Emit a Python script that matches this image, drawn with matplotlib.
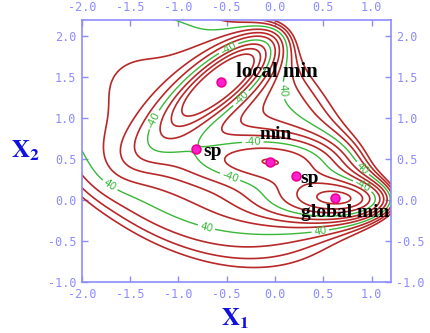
import numpy as np
import matplotlib
matplotlib.use('Agg')
import matplotlib.pyplot as plt

# Mueller-Brown surface parameters
A = [-200, -100, -170, 15]
a = [-1, -1, -6.5, 0.7]
b = [0, 0, 11, 0.6]
c = [-10, -10, -6.5, 0.7]
x0 = [1, 0, -0.5, -1]
y0 = [0, 0.5, 1.5, 1]

levels = [-100, -80, -60, -40, -20, 0, 20, 40, 60, 80, 100]
green_levels = [-40, 40]

# stationary points and their labels
pt_x = [-0.558, -0.822, -0.050, 0.212, 0.623]
pt_y = [1.442, 0.624, 0.467, 0.293, 0.028]
pt_names = ['local min', 'sp', 'min', 'sp', 'global min']
name_x = [-0.40, -0.74, -0.16, 0.26, 0.27]
name_y = [1.56, 0.60, 0.80, 0.27, -0.15]

xticks = [-2.0, -1.5, -1.0, -0.5, 0.0, 0.5, 1.0]
yticks = [-1.0, -0.5, 0.0, 0.5, 1.0, 1.5, 2.0]

label_pos = [(-1.25, 0.98), (-0.48, 1.85), (-0.34, 1.23), (0.09, 1.34), (-0.23, 0.71),
             (-1.71, 0.18), (-0.71, -0.33), (-0.47, 0.27), (0.9, 0.38), (0.9, 0.16), (0.47, -0.39)]


def potential(x, y):
    v = np.zeros_like(x)
    for i in range(4):
        dx = x - x0[i]
        dy = y - y0[i]
        v += A[i] * np.exp(a[i] * dx**2 + b[i] * dx * dy + c[i] * dy**2)
    return v


xs = np.linspace(-2.05, 1.25, 400)
ys = np.linspace(-1.05, 2.25, 400)
X, Y = np.meshgrid(xs, ys)
V = potential(X, Y)

fig = plt.figure(figsize=(4.31, 3.33), dpi=100)
ax = fig.add_axes([0.190, 0.153, 0.717, 0.787])

red_levels = [l for l in levels if l not in green_levels]
ax.contour(X, Y, V, levels=red_levels, colors='#b82828', linewidths=1.2, linestyles='solid')
cs = ax.contour(X, Y, V, levels=green_levels, colors='#38b838', linewidths=1.0, linestyles='solid')
ax.clabel(cs, fmt='%d', fontsize=7.5, manual=label_pos, inline=True, inline_spacing=2)

ax.scatter(pt_x, pt_y, s=40, c='#ff20d0', edgecolors='#ee0090', linewidths=1.2, zorder=5)
for name, tx, ty in zip(pt_names, name_x, name_y):
    fs = 15 if name == 'local min' else 14
    ax.text(tx, ty, name, fontsize=fs, family='Liberation Serif', fontweight='bold',
            color='black', va='center', ha='left', zorder=6)

ax.set_xlim(-2.0, 1.2)
ax.set_ylim(-1.0, 2.2)
ax.set_xticks(xticks)
ax.set_yticks(yticks)
ax.set_xticklabels([f'{t:.1f}' for t in xticks])
ax.set_yticklabels([f'{t:.1f}' for t in yticks])
blue = '#8c8cff'
for s in ax.spines.values():
    s.set_color(blue)
    s.set_linewidth(1.2)
ax.tick_params(direction='in', length=4, width=1, color=blue, labelcolor=blue,
               top=True, right=True, labeltop=True, labelright=True, pad=4)
for lab in ax.get_xticklabels() + ax.get_yticklabels():
    lab.set_family('DejaVu Sans Mono')
    lab.set_fontsize(8.5)

plt.rcParams['mathtext.fontset'] = 'stix'
fig.text(0.545, 0.043, r'$\mathbf{X}_\mathbf{1}$', fontsize=18, color='#1010e0', ha='center', va='center')
fig.text(0.06, 0.548, r'$\mathbf{X}_\mathbf{2}$', fontsize=18, color='#1010e0', ha='center', va='center')

fig.savefig('out.png', dpi=100)
